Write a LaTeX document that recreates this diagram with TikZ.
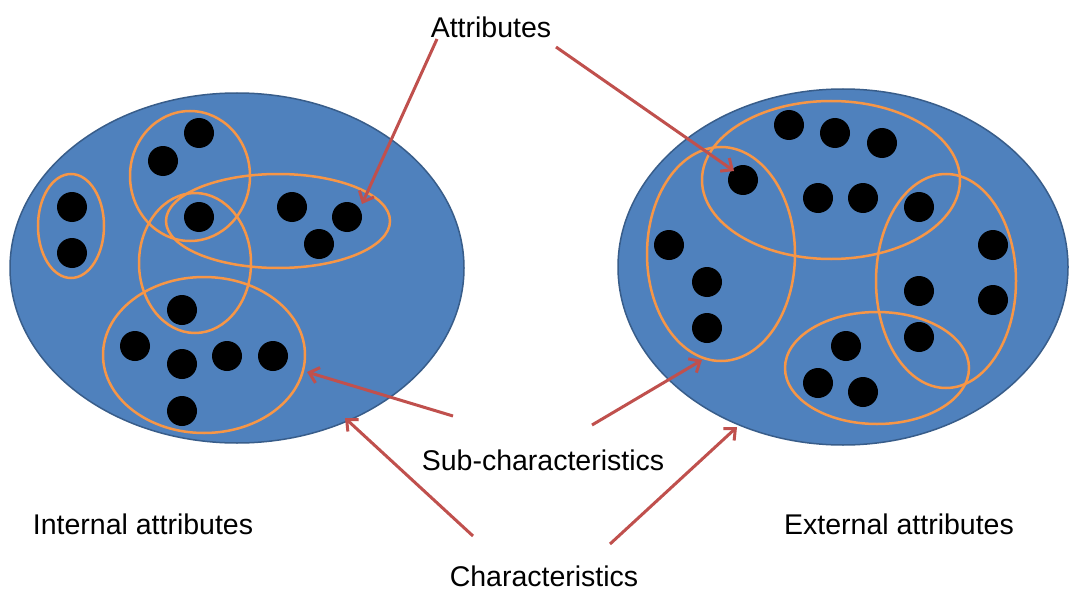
\documentclass[tikz,border=0pt]{standalone}
\usepackage{fontspec}
\setmainfont{Liberation Sans}
\usetikzlibrary{shapes.geometric,arrows.meta}
\definecolor{fillblue}{HTML}{4F81BD}
\definecolor{edgeblue}{HTML}{385D8A}
\definecolor{ringorange}{HTML}{F79646}
\definecolor{arrowred}{HTML}{C0504D}
\tikzset{
  bigset/.style={ellipse, draw=edgeblue, fill=fillblue, line width=1.5pt, inner sep=0pt},
  ring/.style={ellipse, draw=ringorange, line width=2.5pt, inner sep=0pt},
  dotnode/.style={circle, fill=black, minimum size=30pt, inner sep=0pt},
  label/.style={font=\fontsize{28.5}{34}\selectfont, inner sep=0pt},
  pointer/.style={draw=arrowred, line width=3pt, -{Straight Barb[length=9pt,width=16pt,line width=3pt]}}
}
\begin{document}
\begin{tikzpicture}[x=1pt,y=-1pt]
\fill[white] (0,0) rectangle (1070,591);
\useasboundingbox (0,0) rectangle (1070,591);

% big sets
\node[bigset, minimum width=454pt, minimum height=350pt] (left) at (237,268) {};
\node[bigset, minimum width=450pt, minimum height=356pt] (right) at (843,267) {};

% left rings
\node[ring, minimum width=66pt, minimum height=104pt] (lr1) at (71,226) {};
\node[ring, minimum width=120pt, minimum height=130pt] (lr2) at (190,176) {};
\node[ring, minimum width=112pt, minimum height=140pt] (lr3) at (195,263) {};
\node[ring, minimum width=224pt, minimum height=94pt] (lr4) at (278,221) {};
\node[ring, minimum width=202pt, minimum height=156pt] (lr5) at (204,355) {};

% right rings
\node[ring, minimum width=258pt, minimum height=158pt] (rr1) at (831,180) {};
\node[ring, minimum width=148pt, minimum height=214pt] (rr2) at (721,254) {};
\node[ring, minimum width=140pt, minimum height=214pt] (rr3) at (946,281) {};
\node[ring, minimum width=184pt, minimum height=112pt] (rr4) at (877,368) {};

% left dots
\node[dotnode] (ld1) at (72,207) {};
\node[dotnode] (ld2) at (72,253) {};
\node[dotnode] (ld3) at (199,133) {};
\node[dotnode] (ld4) at (163,161) {};
\node[dotnode] (ld5) at (199,217) {};
\node[dotnode] (ld6) at (292,207) {};
\node[dotnode] (ld7) at (347,217) {};
\node[dotnode] (ld8) at (319,244) {};
\node[dotnode] (ld9) at (182,310) {};
\node[dotnode] (ld10) at (135,346) {};
\node[dotnode] (ld11) at (182,364) {};
\node[dotnode] (ld12) at (227,356) {};
\node[dotnode] (ld13) at (273,356) {};
\node[dotnode] (ld14) at (182,411) {};

% right dots
\node[dotnode] (rd1) at (789,125) {};
\node[dotnode] (rd2) at (835,133) {};
\node[dotnode] (rd3) at (882,143) {};
\node[dotnode] (rd4) at (743,180) {};
\node[dotnode] (rd5) at (818,198) {};
\node[dotnode] (rd6) at (863,198) {};
\node[dotnode] (rd7) at (919,207) {};
\node[dotnode] (rd8) at (669,245) {};
\node[dotnode] (rd9) at (707,282) {};
\node[dotnode] (rd10) at (707,328) {};
\node[dotnode] (rd11) at (993,245) {};
\node[dotnode] (rd12) at (993,300) {};
\node[dotnode] (rd13) at (919,291) {};
\node[dotnode] (rd14) at (919,337) {};
\node[dotnode] (rd15) at (846,346) {};
\node[dotnode] (rd16) at (818,383) {};
\node[dotnode] (rd17) at (863,392) {};

% labels
\node[label] (attr) at (491,27) {Attributes};
\node[label] (sub) at (543,460) {Sub-characteristics};
\node[label] (chars) at (544,576) {Characteristics};
\node[label] (intl) at (143,524) {Internal attributes};
\node[label] (extl) at (899,524) {External attributes};

% arrow end points
\coordinate (a1s) at (437,39);
\coordinate (a1e) at (362,204);
\coordinate (a2s) at (556,47);
\coordinate (a2e) at (734,171);
\coordinate (s1s) at (453,416);
\coordinate (s1e) at (307,372);
\coordinate (s2s) at (592,425);
\coordinate (s2e) at (702,360);
\coordinate (c1s) at (473,536);
\coordinate (c1e) at (345,418);
\coordinate (c2s) at (610,544);
\coordinate (c2e) at (737,427);

\draw[pointer] (a1s) -- (a1e);
\draw[pointer] (a2s) -- (a2e);
\draw[pointer] (s1s) -- (s1e);
\draw[pointer] (s2s) -- (s2e);
\draw[pointer] (c1s) -- (c1e);
\draw[pointer] (c2s) -- (c2e);
\end{tikzpicture}
\end{document}
